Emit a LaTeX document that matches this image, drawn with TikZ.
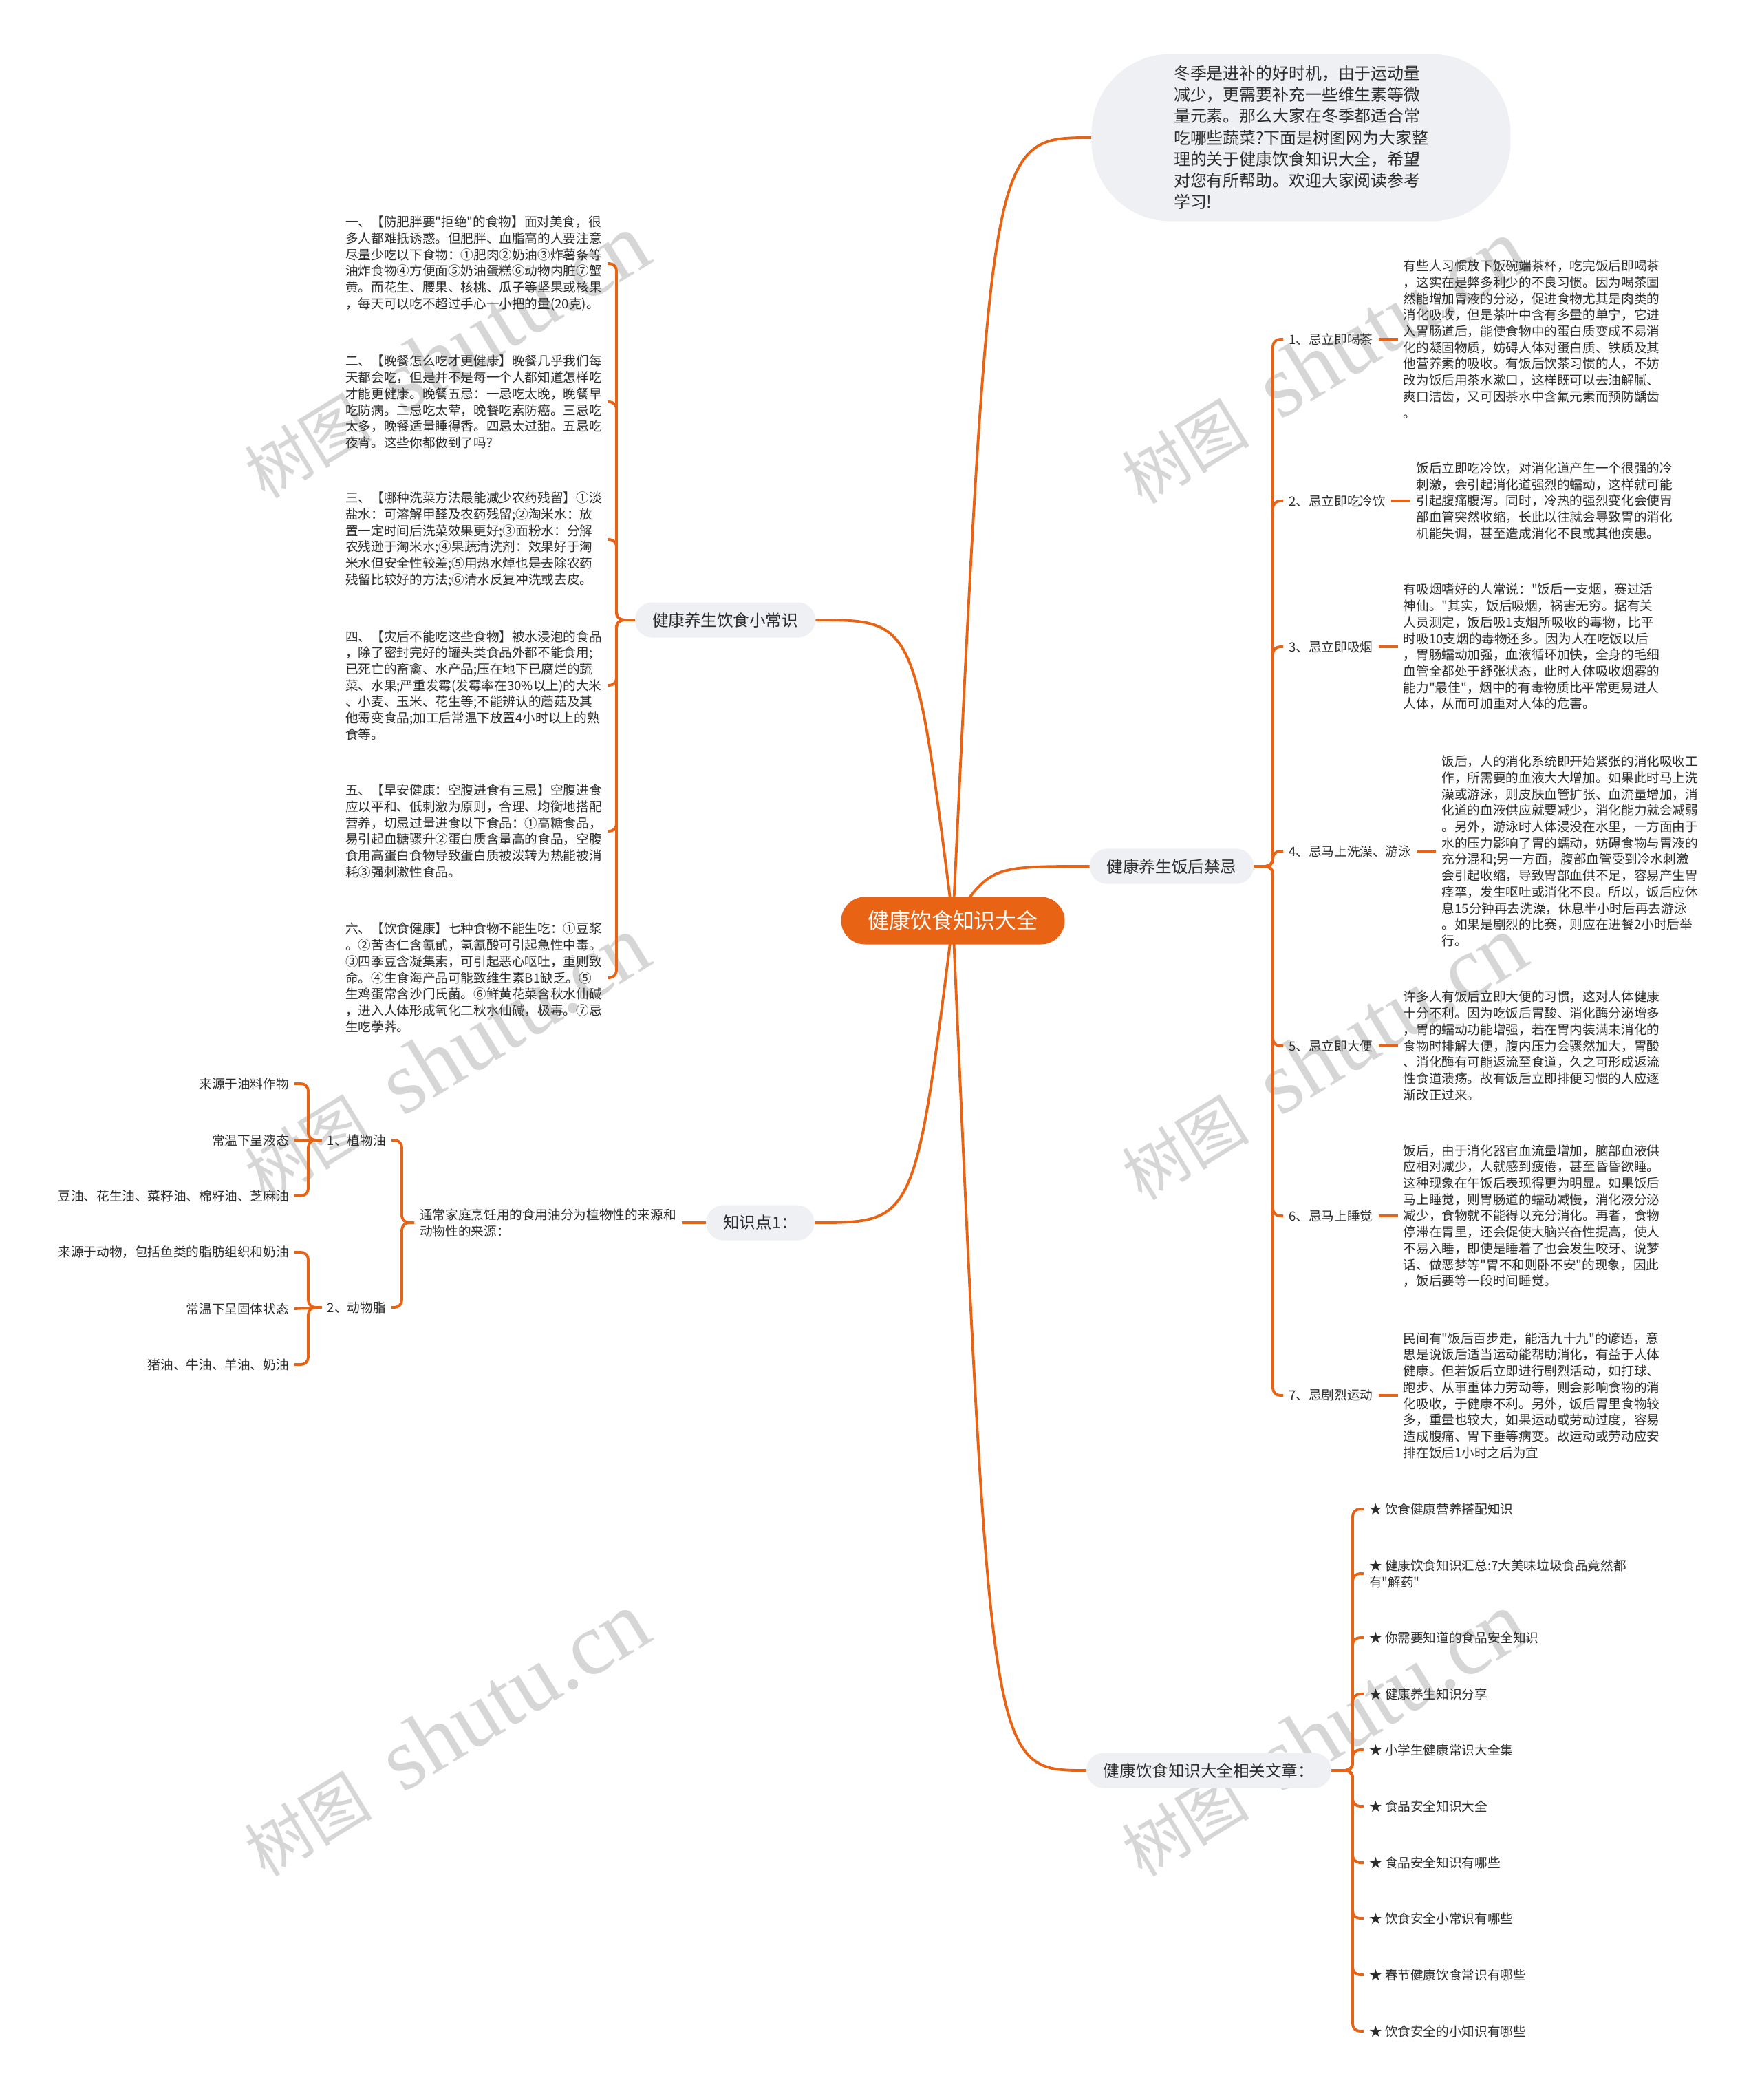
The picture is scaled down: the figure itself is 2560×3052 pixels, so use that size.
\documentclass[tikz,border=0pt]{standalone}
\usepackage{fontspec}
\setmainfont{Noto Sans CJK SC}
\newfontfamily\cjkfont{Noto Sans CJK SC}
\newfontfamily\wmfont{Liberation Serif}
\usetikzlibrary{positioning,backgrounds}
\definecolor{mmorange}{RGB}{232,100,20}
\definecolor{mmgray}{RGB}{238,240,243}
\definecolor{mmtext}{RGB}{45,45,45}
\definecolor{wmgray}{RGB}{214,214,214}

\begin{document}
\begin{tikzpicture}[x=0.02cm,y=-0.02cm,line cap=round,
  root/.style={fill=mmorange,text=white,rounded corners=0.69cm,minimum width=6.5cm,minimum height=1.38cm,font=\cjkfont\fontsize{17.6}{21}\selectfont},
  topic/.style={fill=mmgray,text=mmtext,rounded corners=0.5cm,minimum height=1.02cm,inner xsep=0.5cm,font=\cjkfont\fontsize{13.4}{16}\selectfont},
  bubble/.style={fill=mmgray,text=mmtext,rounded corners=2.3cm,minimum width=12.18cm,minimum height=4.86cm,align=left,font=\cjkfont\fontsize{13.6}{17.75}\selectfont},
  leaf/.style={text=mmtext,inner sep=4.5pt,align=left,font=\cjkfont\fontsize{10.6}{13.5}\selectfont},
  link/.style={draw=mmorange,line width=2.2pt},
  elbow/.style={link,rounded corners=6pt},
  wmark/.style={text=wmgray,rotate=31.5,inner sep=0pt,font=\cjkfont\fontsize{53}{56}\selectfont}]
\useasboundingbox (0,0) rectangle (2560,3052);

% main topics
\node[root] (ctr) at (1385,1338) {健康饮食知识大全};
\node[bubble] (intro) at (1891,200) {冬季是进补的好时机，由于运动量\\减少，更需要补充一些维生素等微\\量元素。那么大家在冬季都适合常\\吃哪些蔬菜?下面是树图网为大家整\\理的关于健康饮食知识大全，希望\\对您有所帮助。欢迎大家阅读参考\\学习!};
\node[topic] (tipA) at (1054,901) {健康养生饮食小常识};
\node[topic] (tipB) at (1105,1777) {知识点1：};
\node[topic] (tipC) at (1703,1259) {健康养生饭后禁忌};
\node[topic] (tipD) at (1757,2573) {健康饮食知识大全相关文章：};

% left: small tips
\node[leaf,anchor=west] (nA1) at (494,383) {一、【防肥胖要"拒绝"的食物】面对美食，很\\多人都难抵诱惑。但肥胖、血脂高的人要注意\\尽量少吃以下食物：①肥肉②奶油③炸薯条等\\油炸食物④方便面⑤奶油蛋糕⑥动物内脏⑦蟹\\黄。而花生、腰果、核桃、瓜子等坚果或核果\\，每天可以吃不超过手心一小把的量(20克)。};
\node[leaf,anchor=west] (nA2) at (494,584) {二、【晚餐怎么吃才更健康】晚餐几乎我们每\\天都会吃，但是并不是每一个人都知道怎样吃\\才能更健康。晚餐五忌：一忌吃太晚，晚餐早\\吃防病。二忌吃太荤，晚餐吃素防癌。三忌吃\\太多，晚餐适量睡得香。四忌太过甜。五忌吃\\夜宵。这些你都做到了吗?};
\node[leaf,anchor=west] (nA3) at (494,784) {三、【哪种洗菜方法最能减少农药残留】①淡\\盐水：可溶解甲醛及农药残留;②淘米水：放\\置一定时间后洗菜效果更好;③面粉水：分解\\农残逊于淘米水;④果蔬清洗剂：效果好于淘\\米水但安全性较差;⑤用热水焯也是去除农药\\残留比较好的方法;⑥清水反复冲洗或去皮。};
\node[leaf,anchor=west] (nA4) at (494,996) {四、【灾后不能吃这些食物】被水浸泡的食品\\，除了密封完好的罐头类食品外都不能食用;\\已死亡的畜禽、水产品;压在地下已腐烂的蔬\\菜、水果;严重发霉(发霉率在30\%以上)的大米\\、小麦、玉米、花生等;不能辨认的蘑菇及其\\他霉变食品;加工后常温下放置4小时以上的熟\\食等。};
\node[leaf,anchor=west] (nA5) at (494,1208) {五、【早安健康：空腹进食有三忌】空腹进食\\应以平和、低刺激为原则，合理、均衡地搭配\\营养，切忌过量进食以下食品：①高糖食品，\\易引起血糖骤升②蛋白质含量高的食品，空腹\\食用高蛋白食物导致蛋白质被泼转为热能被消\\耗③强刺激性食品。};
\node[leaf,anchor=west] (nA6) at (494,1421) {六、【饮食健康】七种食物不能生吃：①豆浆\\。②苦杏仁含氰甙，氢氰酸可引起急性中毒。\\③四季豆含凝集素，可引起恶心呕吐，重则致\\命。④生食海产品可能致维生素B1缺乏。⑤\\生鸡蛋常含沙门氏菌。⑥鲜黄花菜含秋水仙碱\\，进入人体形成氧化二秋水仙碱，极毒。⑦忌\\生吃荸荠。};

% left bottom: oils
\node[leaf,anchor=east] (oil) at (991,1777) {通常家庭烹饪用的食用油分为植物性的来源和\\动物性的来源：};
\node[leaf,anchor=east] (plant) at (569,1657) {1、植物油};
\node[leaf,anchor=east] (animal) at (569,1900) {2、动物脂};
\node[leaf,anchor=east] (p1) at (428,1575) {来源于油料作物};
\node[leaf,anchor=east] (p2) at (428,1657) {常温下呈液态};
\node[leaf,anchor=east] (p3) at (428,1738) {豆油、花生油、菜籽油、棉籽油、芝麻油};
\node[leaf,anchor=east] (a1) at (428,1820) {来源于动物，包括鱼类的脂肪组织和奶油};
\node[leaf,anchor=east] (a2) at (428,1902) {常温下呈固体状态};
\node[leaf,anchor=east] (a3) at (428,1983) {猪油、牛油、羊油、奶油};

% right: after meals
\node[leaf,anchor=west] (l1) at (1865,493) {1、忌立即喝茶};
\node[leaf,anchor=west] (l2) at (1865,728) {2、忌立即吃冷饮};
\node[leaf,anchor=west] (l3) at (1865,940) {3、忌立即吸烟};
\node[leaf,anchor=west] (l4) at (1865,1237) {4、忌马上洗澡、游泳};
\node[leaf,anchor=west] (l5) at (1865,1520) {5、忌立即大便};
\node[leaf,anchor=west] (l6) at (1865,1767) {6、忌马上睡觉};
\node[leaf,anchor=west] (l7) at (1865,2028) {7、忌剧烈运动};
\node[leaf,right=0.56cm of l1] (d1) {有些人习惯放下饭碗端茶杯，吃完饭后即喝茶\\，这实在是弊多利少的不良习惯。因为喝茶固\\然能增加胃液的分泌，促进食物尤其是肉类的\\消化吸收，但是茶叶中含有多量的单宁，它进\\入胃肠道后，能使食物中的蛋白质变成不易消\\化的凝固物质，妨碍人体对蛋白质、铁质及其\\他营养素的吸收。有饭后饮茶习惯的人，不妨\\改为饭后用茶水漱口，这样既可以去油解腻、\\爽口洁齿，又可因茶水中含氟元素而预防龋齿\\。};
\node[leaf,right=0.56cm of l2] (d2) {饭后立即吃冷饮，对消化道产生一个很强的冷\\刺激，会引起消化道强烈的蠕动，这样就可能\\引起腹痛腹泻。同时，冷热的强烈变化会使胃\\部血管突然收缩，长此以往就会导致胃的消化\\机能失调，甚至造成消化不良或其他疾患。};
\node[leaf,right=0.56cm of l3] (d3) {有吸烟嗜好的人常说："饭后一支烟，赛过活\\神仙。"其实，饭后吸烟，祸害无穷。据有关\\人员测定，饭后吸1支烟所吸收的毒物，比平\\时吸10支烟的毒物还多。因为人在吃饭以后\\，胃肠蠕动加强，血液循环加快，全身的毛细\\血管全都处于舒张状态，此时人体吸收烟雾的\\能力"最佳"，烟中的有毒物质比平常更易进人\\人体，从而可加重对人体的危害。};
\node[leaf,right=0.56cm of l4] (d4) {饭后，人的消化系统即开始紧张的消化吸收工\\作，所需要的血液大大增加。如果此时马上洗\\澡或游泳，则皮肤血管扩张、血流量增加，消\\化道的血液供应就要减少，消化能力就会减弱\\。另外，游泳时人体浸没在水里，一方面由于\\水的压力影响了胃的蠕动，妨碍食物与胃液的\\充分混和;另一方面，腹部血管受到冷水刺激\\会引起收缩，导致胃部血供不足，容易产生胃\\痉挛，发生呕吐或消化不良。所以，饭后应休\\息15分钟再去洗澡，休息半小时后再去游泳\\。如果是剧烈的比赛，则应在进餐2小时后举\\行。};
\node[leaf,right=0.56cm of l5] (d5) {许多人有饭后立即大便的习惯，这对人体健康\\十分不利。因为吃饭后胃酸、消化酶分泌增多\\，胃的蠕动功能增强，若在胃内装满未消化的\\食物时排解大便，腹内压力会骤然加大，胃酸\\、消化酶有可能返流至食道，久之可形成返流\\性食道溃疡。故有饭后立即排便习惯的人应逐\\渐改正过来。};
\node[leaf,right=0.56cm of l6] (d6) {饭后，由于消化器官血流量增加，脑部血液供\\应相对减少，人就感到疲倦，甚至昏昏欲睡。\\这种现象在午饭后表现得更为明显。如果饭后\\马上睡觉，则胃肠道的蠕动减慢，消化液分泌\\减少，食物就不能得以充分消化。再者，食物\\停滞在胃里，还会促使大脑兴奋性提高，使人\\不易入睡，即使是睡着了也会发生咬牙、说梦\\话、做恶梦等"胃不和则卧不安"的现象，因此\\，饭后要等一段时间睡觉。};
\node[leaf,right=0.56cm of l7] (d7) {民间有"饭后百步走，能活九十九"的谚语，意\\思是说饭后适当运动能帮助消化，有益于人体\\健康。但若饭后立即进行剧烈活动，如打球、\\跑步、从事重体力劳动等，则会影响食物的消\\化吸收，于健康不利。另外，饭后胃里食物较\\多，重量也较大，如果运动或劳动过度，容易\\造成腹痛、胃下垂等病变。故运动或劳动应安\\排在饭后1小时之后为宜};

% right bottom: related articles
\node[leaf,anchor=west] (s1) at (1982,2193) {★ 饮食健康营养搭配知识};
\node[leaf,anchor=west] (s2) at (1982,2287) {★ 健康饮食知识汇总:7大美味垃圾食品竟然都\\有"解药"};
\node[leaf,anchor=west] (s3) at (1982,2380) {★ 你需要知道的食品安全知识};
\node[leaf,anchor=west] (s4) at (1982,2462) {★ 健康养生知识分享};
\node[leaf,anchor=west] (s5) at (1982,2543) {★ 小学生健康常识大全集};
\node[leaf,anchor=west] (s6) at (1982,2625) {★ 食品安全知识大全};
\node[leaf,anchor=west] (s7) at (1982,2707) {★ 食品安全知识有哪些};
\node[leaf,anchor=west] (s8) at (1982,2788) {★ 饮食安全小常识有哪些};
\node[leaf,anchor=west] (s9) at (1982,2870) {★ 春节健康饮食常识有哪些};
\node[leaf,anchor=west] (s10) at (1982,2952) {★ 饮食安全的小知识有哪些};

\coordinate (hubL) at (1330,1338);
\coordinate (hubR) at (1440,1338);
\coordinate (kA) at (896,901);
\coordinate (kC) at (1850,1259);
\coordinate (kD) at (1966,2573);
\coordinate (kO) at (584,1777);
\coordinate (kP) at (448,1657);
\coordinate (kQ) at (448,1900);

\begin{scope}[on background layer]
\fill[white] (0,0) rectangle (2560,3052);
% watermarks
\node[wmark] (wm1) at (648,518) {树图\hspace{28pt}{\wmfont\fontsize{73}{76}\selectfont shutu.cn}};
\node[wmark] (wm2) at (1923,526) {树图\hspace{28pt}{\wmfont\fontsize{73}{76}\selectfont shutu.cn}};
\node[wmark] (wm3) at (648,1538) {树图\hspace{28pt}{\wmfont\fontsize{73}{76}\selectfont shutu.cn}};
\node[wmark] (wm4) at (1923,1538) {树图\hspace{28pt}{\wmfont\fontsize{73}{76}\selectfont shutu.cn}};
\node[wmark] (wm5) at (648,2521) {树图\hspace{28pt}{\wmfont\fontsize{73}{76}\selectfont shutu.cn}};
\node[wmark] (wm6) at (1923,2521) {树图\hspace{28pt}{\wmfont\fontsize{73}{76}\selectfont shutu.cn}};

% center to topics
\draw[link] (ctr.center) .. controls (hubR |- intro.west) .. (intro.west);
\draw[link] (ctr.center) .. controls (hubR |- tipC.west) .. (tipC.west);
\draw[link] (ctr.center) .. controls (hubR |- tipD.west) .. (tipD.west);
\draw[link] (ctr.center) .. controls (hubL |- tipA.east) .. (tipA.east);
\draw[link] (ctr.center) .. controls (hubL |- tipB.east) .. (tipB.east);

% left tips
\draw[elbow] (tipA.west) -- (kA) |- (nA1.east);
\draw[elbow] (tipA.west) -- (kA) |- (nA2.east);
\draw[elbow] (tipA.west) -- (kA) |- (nA3.east);
\draw[elbow] (tipA.west) -- (kA) |- (nA4.east);
\draw[elbow] (tipA.west) -- (kA) |- (nA5.east);
\draw[elbow] (tipA.west) -- (kA) |- (nA6.east);

% oils
\draw[link] (tipB.west) -- (oil.east);
\draw[elbow] (oil.west) -- (kO) |- (plant.east);
\draw[elbow] (oil.west) -- (kO) |- (animal.east);
\draw[elbow] (plant.west) -- (kP) |- (p1.east);
\draw[link] (plant.west) -- (p2.east);
\draw[elbow] (plant.west) -- (kP) |- (p3.east);
\draw[elbow] (animal.west) -- (kQ) |- (a1.east);
\draw[link] (animal.west) -- (a2.east);
\draw[elbow] (animal.west) -- (kQ) |- (a3.east);

% after meals
\draw[elbow] (tipC.east) -- (kC) |- (l1.west);
\draw[elbow] (tipC.east) -- (kC) |- (l2.west);
\draw[elbow] (tipC.east) -- (kC) |- (l3.west);
\draw[elbow] (tipC.east) -- (kC) |- (l4.west);
\draw[elbow] (tipC.east) -- (kC) |- (l5.west);
\draw[elbow] (tipC.east) -- (kC) |- (l6.west);
\draw[elbow] (tipC.east) -- (kC) |- (l7.west);
\draw[link] (l1.east) -- (d1.west);
\draw[link] (l2.east) -- (d2.west);
\draw[link] (l3.east) -- (d3.west);
\draw[link] (l4.east) -- (d4.west);
\draw[link] (l5.east) -- (d5.west);
\draw[link] (l6.east) -- (d6.west);
\draw[link] (l7.east) -- (d7.west);

% articles
\draw[elbow] (tipD.east) -- (kD) |- (s1.west);
\draw[elbow] (tipD.east) -- (kD) |- (s2.west);
\draw[elbow] (tipD.east) -- (kD) |- (s3.west);
\draw[elbow] (tipD.east) -- (kD) |- (s4.west);
\draw[elbow] (tipD.east) -- (kD) |- (s5.west);
\draw[elbow] (tipD.east) -- (kD) |- (s6.west);
\draw[elbow] (tipD.east) -- (kD) |- (s7.west);
\draw[elbow] (tipD.east) -- (kD) |- (s8.west);
\draw[elbow] (tipD.east) -- (kD) |- (s9.west);
\draw[elbow] (tipD.east) -- (kD) |- (s10.west);
\end{scope}
\end{tikzpicture}
\end{document}
